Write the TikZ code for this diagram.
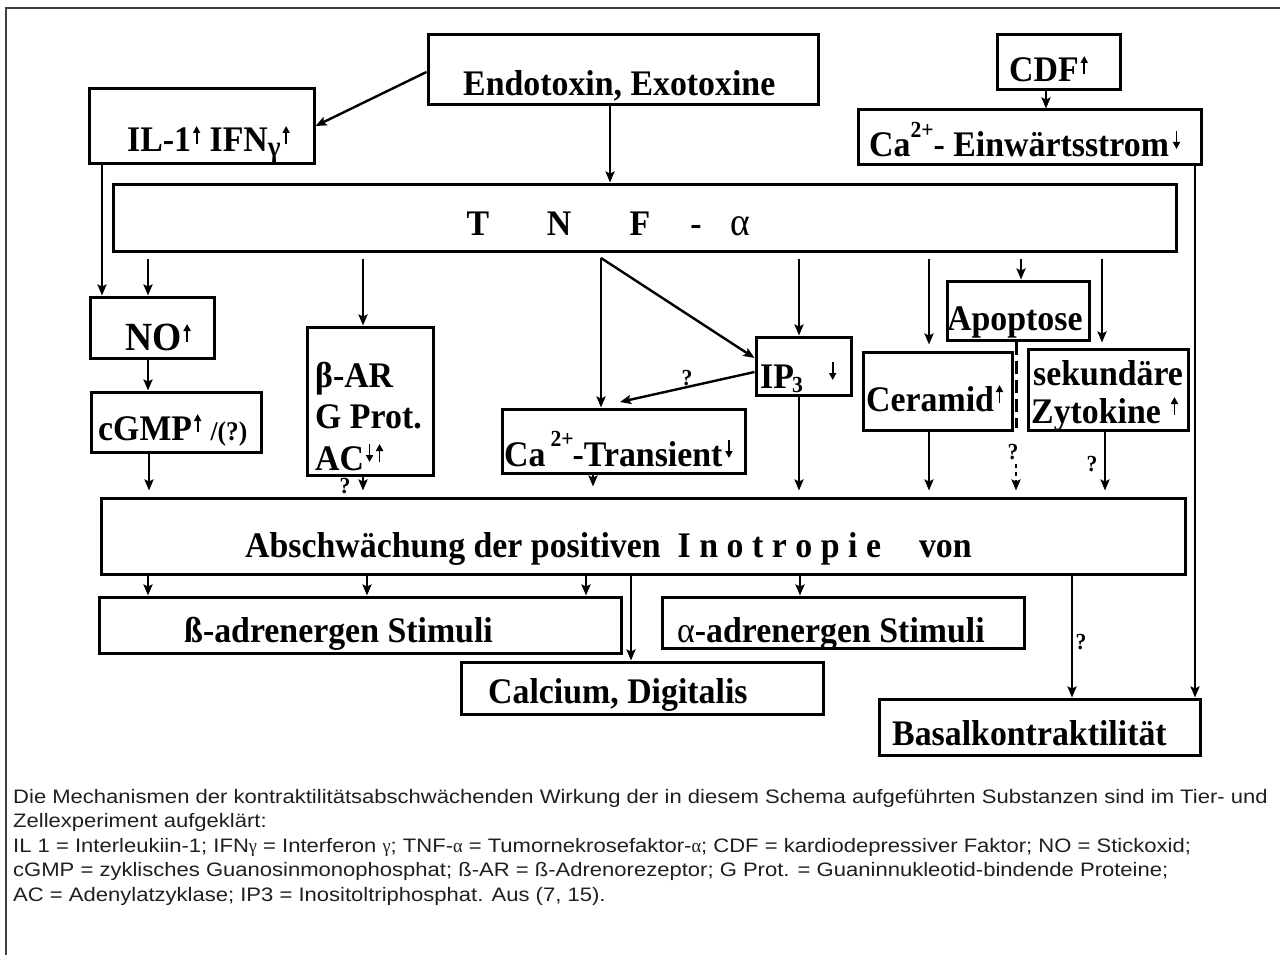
\documentclass[tikz,border=0pt]{standalone}
\usepackage{fontspec}
\setmainfont{Liberation Serif}[FakeStretch=0.94]
\newfontfamily\capfont{Liberation Sans}[FakeStretch=1.13]
\usetikzlibrary{arrows.meta,fit}
\newcommand\supx[1]{\raisebox{.55em}{\fontsize{23}{23}\selectfont #1}}
\newcommand\upa{\hspace{2pt}\tikz[baseline=0pt,x=1pt,y=1pt]{\draw[line width=1.8pt,-{Triangle[length=7pt,width=7pt]}] (0,8)--(0,26);}\hspace{1pt}}
\newcommand\dna{\hspace{2pt}\tikz[baseline=0pt,x=1pt,y=1pt]{\draw[line width=1.8pt,-{Triangle[length=7pt,width=7pt]}] (0,26)--(0,8);}\hspace{1pt}}
\newcommand\gr[1]{{\rmfamily #1}}
\begin{document}
\begin{tikzpicture}[x=1pt,y=-1pt,
 box/.style={draw, line width=3pt, inner sep=0pt},
 lbl/.style={font=\fontsize{36}{40}\selectfont\bfseries, inner sep=0pt, anchor=base west},
 qm/.style={font=\fontsize{23}{23}\selectfont\bfseries, inner sep=0pt},
 arr/.style={line width=2.4pt, -{Stealth[length=11pt,width=9pt,inset=2pt]}},
 gap/.style={shorten <=6pt},
 into/.style={shorten >=6pt},
 captxt/.style={font=\capfont\fontsize{19.5}{19.5}\selectfont, text=black!88, inner sep=0pt, anchor=base west},
]
\useasboundingbox (0,0) rectangle (1280,955);
% frame
\draw[black!75, line width=1.5pt] (6,955) -- (6,8) -- (1280,8);

% boxes
\node[box, fit={(428,35) (818,105)}] (endo) {};
\node[box, fit={(89,89) (314,164)}] (il) {};
\node[box, fit={(997,35) (1120,90)}] (cdf) {};
\node[box, fit={(858,110) (1201,165)}] (caein) {};
\node[box, fit={(113,184) (1176,251)}] (tnf) {};
\node[box, fit={(90,297) (214,358)}] (no) {};
\node[box, fit={(91,392) (261,452)}] (cgmp) {};
\node[box, fit={(307,327) (433,475)}] (bar) {};
\node[box, fit={(756,337) (851,395)}] (ip) {};
\node[box, fit={(502,409) (745,473)}] (catr) {};
\node[box, fit={(947,281) (1089,340)}] (apo) {};
\node[box, fit={(863,352) (1012,430)}] (cer) {};
\node[box, fit={(1028,349) (1188,430)}] (sek) {};
\node[box, fit={(101,498) (1185,574)}] (absch) {};
\node[box, fit={(99,597) (621,653)}] (beta) {};
\node[box, fit={(662,597) (1024,648)}] (alpha) {};
\node[box, fit={(461,662) (823,714)}] (calc) {};
\node[box, fit={(879,699) (1200,755)}] (basal) {};

% labels
\node[lbl] (endoT) at (463,96) {Endotoxin, Exotoxine};
\node[lbl] (ilT) at (127,152) {IL-1\upa\ IFN\raisebox{-.12em}{\fontsize{29}{29}\selectfont γ}\upa};
\node[lbl] (cdfT) at (1009,82) {CDF\upa};
\node[lbl] (caeinT) at (869,157) {Ca\supx{2+}- Einwärtsstrom\hspace{2pt}\dna};
\node[lbl, anchor=base] (tT) at (478,235) {T};
\node[lbl, anchor=base] (nT) at (559,235) {N};
\node[lbl, anchor=base] (fT) at (640,235) {F};
\node[lbl, anchor=base] (dT) at (696,235) {-};
\node[lbl, anchor=base] (aT) at (740,235) {\mdseries\fontsize{40}{40}\selectfont α};
\node[lbl, font=\fontsize{40}{40}\selectfont\bfseries] (noT) at (125,350) {NO\upa};
\node[lbl] (cgmpT) at (98,440) {cGMP\upa\ {\fontsize{27}{27}\selectfont/(?)}};
\node[lbl] (bar1) at (315,387) {β-AR};
\node[lbl] (bar2) at (315,428) {G Prot.};
\node[lbl] (bar3) at (315,470) {AC\dna\upa};
\node[lbl] (ipT) at (760,388) {IP\hspace{-2pt}\raisebox{-.12em}{\fontsize{23}{23}\selectfont 3}};
\node[lbl] (ipA) at (827,388) {\dna};
\node[lbl] (catrT) at (504,466) {Ca\hspace{5pt}\supx{2+}\hspace{-1pt}-Transient\hspace{1pt}\dna};
\node[lbl] (apoT) at (947,330) {Apoptose};
\node[lbl] (cerT) at (866,411) {Ceramid\upa};
\node[lbl] (sek1) at (1033,385) {sekundäre};
\node[lbl] (sek2) at (1031,423) {Zytokine\hspace{8pt}\upa};
\node[lbl] (abschT) at (245,557) {Abschwächung der positiven\hspace{17pt}I\hspace{8.5pt}n\hspace{8.5pt}o\hspace{8.5pt}t\hspace{8.5pt}r\hspace{8.5pt}o\hspace{8.5pt}p\hspace{8.5pt}i\hspace{8.5pt}e\hspace{38pt}von};
\node[lbl] (betaT) at (184,642) {ß-adrenergen Stimuli};
\node[lbl] (alphaT) at (677,642) {{\mdseries α}-adrenergen Stimuli};
\node[lbl] (calcT) at (488,703) {Calcium, Digitalis};
\node[lbl] (basalT) at (892,745) {Basalkontraktilität};

% question marks
\node[qm] (q1) at (345,486) {?};
\node[qm] (q2) at (687,378) {?};
\node[qm] (q3) at (1013,452) {?};
\node[qm] (q4) at (1092,464) {?};
\node[qm] (q5) at (1081,642) {?};

% connectors
\draw[arr] (endo.west |- 0,72) -- (il.east |- 0,126);
\draw[arr] (endo.south -| 610,0) -- (tnf.north -| 610,0);
\draw[arr] (cdf.south -| 1046,0) -- (caein.north -| 1046,0);
\draw[arr] (il.south -| 102,0) -- (no.north -| 102,0);
\draw[arr,gap] (tnf.south -| 148,0) -- (no.north -| 148,0);
\draw[arr] (no.south -| 148,0) -- (cgmp.north -| 148,0);
\draw[arr,into] (cgmp.south -| 149,0) -- (absch.north -| 149,0);
\draw[arr,gap] (tnf.south -| 363,0) -- (bar.north -| 363,0);
\draw[arr,into] (bar.south -| 363,0) -- (absch.north -| 363,0);
\coordinate (apex) at (601,258);
\draw[arr] (apex) -- (catr.north -| apex);
\draw[arr] (apex) -- (ip.west |- 0,358);
\draw[arr,gap] (tnf.south -| 799,0) -- (ip.north -| 799,0);
\coordinate (ipc) at (620,402);
\draw[arr] (ip.west |- 0,372) -- (ipc);
\draw[arr,shorten >=10pt] (catr.south -| 593,0) -- (absch.north -| 593,0);
\draw[arr,into] (ip.south -| 799,0) -- (absch.north -| 799,0);
\draw[arr,gap,shorten >=6pt] (tnf.south -| 929,0) -- (cer.north -| 929,0);
\draw[arr,gap] (tnf.south -| 1021,0) -- (apo.north -| 1021,0);
\draw[arr,gap,shorten >=5pt] (tnf.south -| 1102,0) -- (sek.north -| 1102,0);
\coordinate (dashend) at (1016,428);
\draw[line width=3pt, dash pattern=on 13pt off 6pt] (apo.south -| 1016,0) -- (dashend);
\coordinate (qstart) at (1016,464);
\draw[arr,into,dash pattern=on 4pt off 4pt] (qstart) -- (absch.north -| 1016,0);
\draw[arr,into] (cer.south -| 929,0) -- (absch.north -| 929,0);
\draw[arr,into] (sek.south -| 1105,0) -- (absch.north -| 1105,0);
\draw[arr] (caein.south -| 1195,0) -- (basal.north -| 1195,0);
\foreach \xx in {148,367,586} {\draw[arr] (absch.south -| \xx,0) -- (beta.north -| \xx,0);}
\draw[arr] (absch.south -| 631,0) -- (calc.north -| 631,0);
\draw[arr] (absch.south -| 800,0) -- (alpha.north -| 800,0);
\draw[arr] (absch.south -| 1072,0) -- (basal.north -| 1072,0);

% caption
\node[captxt] (c1) at (13,803) {Die Mechanismen der kontraktilitätsabschwächenden Wirkung der in diesem Schema aufgeführten Substanzen sind im Tier- und};
\node[captxt] (c2) at (13,827.5) {Zellexperiment aufgeklärt:};
\node[captxt] (c3) at (13,852) {IL 1 = Interleukiin-1; IFN\gr{γ} = Interferon \gr{γ}; TNF-\gr{α} = Tumornekrosefaktor-\gr{α}; CDF = kardiodepressiver Faktor; NO = Stickoxid;};
\node[captxt] (c4) at (13,876.5) {cGMP = zyklisches Guanosinmonophosphat; ß-AR = ß-Adrenorezeptor; G Prot. = Guaninnukleotid-bindende Proteine;};
\node[captxt] (c5) at (13,901) {AC = Adenylatzyklase; IP3 = Inositoltriphosphat. Aus (7, 15).};
\end{tikzpicture}
\end{document}
